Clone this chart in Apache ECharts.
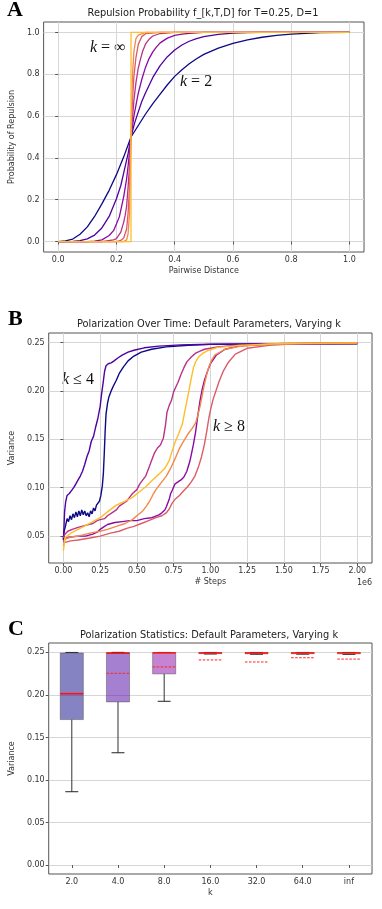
<!DOCTYPE html>
<html>
<head>
<meta charset="utf-8">
<script src="https://cdn.jsdelivr.net/npm/echarts@6/dist/echarts.min.js"></script>
<style>
html, body { margin: 0; padding: 0; background: #fff; }
#chart { width: 382px; height: 909px; }
</style>
</head>
<body>
<div id="chart"></div>
<script>
// plasma colours, one per k
var kColors = ['#0d0887', '#4e02a2', '#8b0aa5', '#b83289', '#db5c68', '#f48849', '#febd2a'];
var kLabels = ['2.0', '4.0', '8.0', '16.0', '32.0', '64.0', 'inf'];

// ---- panel A: repulsion probability vs distance ----
var probK2 = [[0,0],[0.025,0.003],[0.05,0.012],[0.075,0.035],[0.1,0.07],[0.125,0.12],[0.15,0.18],[0.175,0.245],[0.2,0.32],[0.225,0.405],[0.25,0.5],[0.275,0.555],[0.3,0.61],[0.325,0.66],[0.35,0.705],[0.375,0.75],[0.4,0.79],[0.425,0.822],[0.45,0.85],[0.475,0.874],[0.5,0.895],[0.55,0.925],[0.6,0.948],[0.65,0.965],[0.7,0.977],[0.75,0.986],[0.8,0.992],[0.85,0.996],[0.9,0.999],[1,1]];
var probK4 = [[0,0],[0.05,0.001],[0.075,0.004],[0.1,0.013],[0.125,0.031],[0.15,0.065],[0.175,0.12],[0.2,0.205],[0.215,0.268],[0.225,0.328],[0.24,0.42],[0.25,0.5],[0.262,0.565],[0.275,0.62],[0.287,0.67],[0.3,0.712],[0.325,0.785],[0.35,0.841],[0.375,0.884],[0.4,0.916],[0.425,0.94],[0.45,0.958],[0.475,0.971],[0.5,0.98],[0.55,0.991],[0.6,0.997],[0.65,0.999],[0.7,1],[1,1]];
var probK8 = [[0,0],[0.1,0],[0.125,0.002],[0.15,0.008],[0.175,0.029],[0.19,0.052],[0.2,0.084],[0.21,0.118],[0.225,0.215],[0.235,0.3],[0.24,0.36],[0.245,0.43],[0.25,0.5],[0.26,0.6],[0.268,0.66],[0.275,0.71],[0.287,0.775],[0.3,0.834],[0.312,0.875],[0.325,0.907],[0.337,0.93],[0.35,0.95],[0.375,0.973],[0.4,0.986],[0.425,0.992],[0.45,0.996],[0.5,1],[1,1]];
var probK16 = [[0,0],[0.15,0],[0.19,0.008],[0.2,0.014],[0.215,0.045],[0.225,0.093],[0.23,0.125],[0.235,0.17],[0.24,0.26],[0.245,0.36],[0.25,0.5],[0.255,0.59],[0.26,0.675],[0.267,0.76],[0.275,0.83],[0.283,0.875],[0.29,0.91],[0.3,0.945],[0.312,0.967],[0.325,0.983],[0.35,0.995],[0.4,1],[1,1]];
var probK32 = [[0,0],[0.2,0],[0.215,0.005],[0.225,0.017],[0.235,0.06],[0.24,0.136],[0.245,0.262],[0.25,0.5],[0.255,0.674],[0.26,0.79],[0.267,0.88],[0.275,0.943],[0.287,0.98],[0.3,0.994],[0.35,1],[1,1]];
var probK64 = [[0,0],[0.225,0],[0.235,0.008],[0.24,0.037],[0.245,0.137],[0.25,0.5],[0.255,0.79],[0.26,0.91],[0.267,0.97],[0.275,0.987],[0.3,1],[1,1]];
var probKInf = [[0,0],[0.25,0],[0.25,1],[1,1]];
var ticksA = [0, 0.2, 0.4, 0.6, 0.8, 1.0];

// ---- panel B: variance over time (x in units of 1e6 steps) ----
var varK2 = [[0,0.047],[0.005,0.055],[0.015,0.061],[0.025,0.068],[0.035,0.065],[0.045,0.071],[0.055,0.067],[0.065,0.073],[0.075,0.069],[0.085,0.075],[0.095,0.07],[0.105,0.076],[0.115,0.071],[0.125,0.077],[0.135,0.072],[0.145,0.076],[0.155,0.071],[0.165,0.074],[0.175,0.07],[0.185,0.076],[0.195,0.073],[0.205,0.079],[0.215,0.076],[0.225,0.082],[0.235,0.08],[0.245,0.086],[0.255,0.092],[0.265,0.102],[0.272,0.115],[0.278,0.135],[0.284,0.158],[0.29,0.176],[0.3,0.187],[0.31,0.194],[0.325,0.2],[0.34,0.205],[0.36,0.211],[0.38,0.218],[0.41,0.225],[0.44,0.231],[0.48,0.236],[0.53,0.24],[0.6,0.243],[0.7,0.2455],[0.85,0.2472],[1.0,0.248],[1.3,0.2484],[1.6,0.2486],[2.0,0.2487]];
var varK4 = [[0,0.046],[0.004,0.06],[0.008,0.075],[0.015,0.085],[0.025,0.092],[0.04,0.094],[0.055,0.097],[0.07,0.1],[0.085,0.104],[0.1,0.108],[0.115,0.112],[0.13,0.117],[0.145,0.124],[0.16,0.132],[0.175,0.138],[0.19,0.148],[0.205,0.153],[0.22,0.163],[0.235,0.172],[0.25,0.184],[0.26,0.197],[0.27,0.208],[0.28,0.22],[0.29,0.226],[0.305,0.228],[0.325,0.229],[0.345,0.231],[0.37,0.234],[0.4,0.237],[0.44,0.24],[0.48,0.242],[0.55,0.2445],[0.65,0.2462],[0.8,0.2475],[1.0,0.2482],[1.4,0.2486],[2.0,0.2488]];
var varK8 = [[0,0.044],[0.01,0.048],[0.05,0.049],[0.1,0.05],[0.15,0.05],[0.2,0.052],[0.23,0.054],[0.25,0.057],[0.28,0.06],[0.3,0.062],[0.35,0.064],[0.4,0.065],[0.45,0.066],[0.5,0.066],[0.55,0.068],[0.6,0.069],[0.62,0.07],[0.65,0.072],[0.67,0.074],[0.69,0.077],[0.7,0.08],[0.72,0.088],[0.73,0.094],[0.74,0.097],[0.76,0.104],[0.78,0.106],[0.8,0.108],[0.82,0.111],[0.84,0.117],[0.86,0.127],[0.87,0.134],[0.885,0.145],[0.9,0.158],[0.915,0.175],[0.93,0.19],[0.945,0.202],[0.96,0.211],[0.98,0.22],[1.0,0.228],[1.04,0.237],[1.1,0.243],[1.2,0.2465],[1.4,0.2482],[1.7,0.249],[2.0,0.2492]];
var varK16 = [[0,0.048],[0.01,0.052],[0.03,0.055],[0.06,0.057],[0.1,0.059],[0.15,0.061],[0.2,0.063],[0.23,0.066],[0.25,0.067],[0.28,0.068],[0.3,0.071],[0.33,0.074],[0.36,0.077],[0.38,0.081],[0.4,0.083],[0.43,0.086],[0.45,0.09],[0.47,0.094],[0.5,0.098],[0.52,0.104],[0.54,0.108],[0.56,0.112],[0.585,0.122],[0.6,0.128],[0.62,0.136],[0.64,0.141],[0.66,0.144],[0.68,0.151],[0.695,0.165],[0.705,0.178],[0.72,0.185],[0.735,0.19],[0.75,0.199],[0.765,0.204],[0.78,0.209],[0.8,0.217],[0.82,0.224],[0.84,0.23],[0.87,0.235],[0.9,0.239],[0.93,0.241],[0.96,0.243],[1.0,0.244],[1.05,0.2455],[1.2,0.2475],[1.5,0.249],[2.0,0.2495]];
var varK32 = [[0,0.043],[0.05,0.045],[0.1,0.046],[0.18,0.048],[0.25,0.05],[0.32,0.053],[0.38,0.055],[0.43,0.058],[0.48,0.06],[0.53,0.063],[0.58,0.066],[0.63,0.069],[0.67,0.071],[0.7,0.074],[0.72,0.078],[0.74,0.084],[0.76,0.088],[0.79,0.092],[0.82,0.097],[0.845,0.101],[0.87,0.106],[0.895,0.112],[0.92,0.122],[0.94,0.132],[0.96,0.145],[0.975,0.158],[0.99,0.172],[1.005,0.183],[1.02,0.192],[1.04,0.201],[1.06,0.21],[1.09,0.221],[1.12,0.229],[1.17,0.238],[1.25,0.244],[1.4,0.247],[1.6,0.249],[2.0,0.2495]];
var varK64 = [[0,0.04],[0.01,0.047],[0.05,0.049],[0.1,0.05],[0.18,0.053],[0.25,0.055],[0.3,0.057],[0.36,0.06],[0.42,0.063],[0.47,0.067],[0.5,0.071],[0.54,0.076],[0.565,0.081],[0.59,0.087],[0.61,0.093],[0.63,0.098],[0.67,0.106],[0.7,0.112],[0.73,0.12],[0.76,0.13],[0.785,0.139],[0.81,0.146],[0.83,0.151],[0.85,0.156],[0.875,0.161],[0.9,0.167],[0.915,0.175],[0.93,0.184],[0.945,0.196],[0.96,0.207],[0.975,0.217],[0.99,0.225],[1.01,0.232],[1.03,0.237],[1.1,0.243],[1.2,0.246],[1.4,0.2485],[2.0,0.2495]];
var varKInf = [[0,0.035],[0.01,0.048],[0.05,0.053],[0.1,0.057],[0.14,0.06],[0.2,0.065],[0.25,0.069],[0.3,0.075],[0.36,0.082],[0.42,0.086],[0.47,0.09],[0.52,0.096],[0.56,0.101],[0.6,0.107],[0.65,0.114],[0.69,0.12],[0.72,0.128],[0.74,0.138],[0.76,0.147],[0.785,0.156],[0.81,0.166],[0.83,0.182],[0.85,0.197],[0.87,0.213],[0.885,0.224],[0.9,0.23],[0.92,0.235],[0.95,0.239],[0.99,0.242],[1.05,0.245],[1.2,0.247],[1.5,0.249],[2.0,0.2496]];
var ticksBx = [0, 0.25, 0.5, 0.75, 1.0, 1.25, 1.5, 1.75, 2.0];
var ticksBy = [0.05, 0.10, 0.15, 0.20, 0.25];

// ---- panel C: box statistics per k ----
var boxMin    = [0.0862, 0.132, 0.1925, 0.2481, 0.2478, 0.2479, 0.2477];
var boxQ1     = [0.171, 0.1918, 0.2247, 0.2485, 0.2483, 0.2484, 0.2483];
var boxMedian = [0.2015, 0.249, 0.2494, 0.2493, 0.2492, 0.2493, 0.2493];
var boxQ3     = [0.2493, 0.2497, 0.2497, 0.2497, 0.2497, 0.2497, 0.2497];
var boxMax    = [0.2499, 0.25, 0.2499, 0.2499, 0.2499, 0.2499, 0.2499];
var boxMean   = [0.2012, 0.2254, 0.2329, 0.2411, 0.2387, 0.2437, 0.2421];
var ticksCy = [0, 0.05, 0.10, 0.15, 0.20, 0.25];

var FONT = 'DejaVu Sans';
var gridColor = '#d6d6d6';
var frameColor = '#555';

function hexAlpha(hex, a) {
  var r = parseInt(hex.slice(1, 3), 16), g = parseInt(hex.slice(3, 5), 16), b = parseInt(hex.slice(5, 7), 16);
  return 'rgba(' + r + ',' + g + ',' + b + ',' + a + ')';
}

function valueAxis(grid, min, max, ticks, digits, split, extra) {
  var ax = {
    type: 'value', gridIndex: grid, min: min, max: max,
    axisLine: { show: false },
    axisTick: { show: true, customValues: ticks, length: 3, lineStyle: { color: frameColor } },
    axisLabel: {
      customValues: ticks, fontFamily: FONT, fontSize: 8, color: '#333', margin: 4,
      formatter: function (v) { return v.toFixed(digits); }
    },
    splitLine: { show: split, lineStyle: { color: gridColor, width: 1 } }
  };
  for (var key in extra) ax[key] = extra[key];
  return ax;
}

function axisName(text, gap) {
  return {
    name: text, nameLocation: 'middle', nameGap: gap,
    nameTextStyle: { fontFamily: FONT, fontSize: 8, color: '#333' }
  };
}

function lineSeries(data, color, xi, width) {
  return {
    type: 'line', data: data, xAxisIndex: xi, yAxisIndex: xi,
    showSymbol: false, symbol: 'none',
    lineStyle: { color: color, width: width }, silent: true, animation: false
  };
}

var probCurves = [probK2, probK4, probK8, probK16, probK32, probK64, probKInf];
var varCurves = [varK2, varK4, varK8, varK16, varK32, varK64, varKInf];

var series = [];
probCurves.forEach(function (c, i) {
  series.push(lineSeries(c, kColors[i], 0, 1.3));
});
varCurves.forEach(function (c, i) {
  series.push(lineSeries(c, kColors[i], 1, 1.4));
});

var boxData = kLabels.map(function (k, i) {
  return [i, boxMin[i], boxQ1[i], boxMedian[i], boxQ3[i], boxMax[i], boxMean[i]];
});

series.push({
  type: 'custom', xAxisIndex: 2, yAxisIndex: 2, data: boxData, silent: true, animation: false,
  encode: { x: 0, y: [1, 2, 3, 4, 5, 6] },
  renderItem: function (params, api) {
    var i = api.value(0);
    var band = api.size([1, 0])[0];
    var half = band * 0.25, cap = band * 0.14;
    var cx = api.coord([i, 0])[0];
    function y(v) { return api.coord([i, v])[1]; }
    var yMin = y(api.value(1)), yQ1 = y(api.value(2)), yMed = y(api.value(3));
    var yQ3 = y(api.value(4)), yMax = y(api.value(5)), yMean = y(api.value(6));
    var dark = { stroke: '#333', lineWidth: 1 };
    return {
      type: 'group',
      children: [
        { type: 'line', shape: { x1: cx, y1: yQ1, x2: cx, y2: yMin }, style: dark },
        { type: 'line', shape: { x1: cx, y1: yQ3, x2: cx, y2: yMax }, style: dark },
        { type: 'line', shape: { x1: cx - cap, y1: yMin, x2: cx + cap, y2: yMin }, style: { stroke: '#222', lineWidth: 1 } },
        { type: 'line', shape: { x1: cx - cap, y1: yMax, x2: cx + cap, y2: yMax }, style: { stroke: '#222', lineWidth: 1 } },
        { type: 'rect', shape: { x: cx - half, y: yQ3, width: 2 * half, height: Math.max(yQ1 - yQ3, 1) },
          style: { fill: hexAlpha(kColors[i], 0.5), stroke: 'rgba(70,70,70,0.45)', lineWidth: 1 } },
        { type: 'line', shape: { x1: cx - half, y1: yMean, x2: cx + half, y2: yMean },
          style: { stroke: '#ff2020', lineWidth: 1, lineDash: [2.5, 1.5] } },
        { type: 'line', shape: { x1: cx - half, y1: yMed, x2: cx + half, y2: yMed },
          style: { stroke: '#ff1010', lineWidth: 1.5 } }
      ]
    };
  }
});

function titleText(text, x, y) {
  return { type: 'text', x: x, y: y, style: { text: text, fontFamily: FONT, fontSize: 9.8, fill: '#222', align: 'center', verticalAlign: 'middle' } };
}
function panelLetter(text, x, y) {
  return { type: 'text', x: x, y: y, style: { text: text, fontFamily: 'Liberation Serif', fontWeight: 'bold', fontSize: 22, fill: '#000', align: 'left', verticalAlign: 'middle' } };
}
function mathText(rel, x, y) {
  return {
    type: 'text', x: x, y: y,
    style: {
      text: '{i|k}{n|' + rel + '}', align: 'left', verticalAlign: 'middle',
      rich: {
        i: { fontFamily: 'Liberation Serif', fontStyle: 'italic', fontSize: 16, fill: '#111' },
        n: { fontFamily: 'Liberation Serif', fontSize: 16, fill: '#111' }
      }
    }
  };
}

var option = {
  backgroundColor: '#fff',
  animation: false,
  grid: [
    { left: 39, top: 22, width: 325, height: 230, show: true, borderColor: frameColor, borderWidth: 1, backgroundColor: 'transparent' },
    { left: 45, top: 333, width: 327, height: 230, show: true, borderColor: frameColor, borderWidth: 1, backgroundColor: 'transparent' },
    { left: 45, top: 643, width: 327, height: 231, show: true, borderColor: frameColor, borderWidth: 1, backgroundColor: 'transparent' }
  ],
  xAxis: [
    valueAxis(0, -0.05, 1.05, ticksA, 1, true, axisName('Pairwise Distance', 15)),
    valueAxis(1, -0.1, 2.1, ticksBx, 2, true, axisName('# Steps', 15)),
    (function () {
      var ax = {
        type: 'category', gridIndex: 2, data: kLabels,
        axisLine: { show: false },
        axisTick: { show: true, alignWithLabel: true, length: 3, lineStyle: { color: frameColor } },
        axisLabel: { fontFamily: FONT, fontSize: 8, color: '#333', margin: 4 },
        splitLine: { show: false }
      };
      var n = axisName('k', 15);
      for (var key in n) ax[key] = n[key];
      return ax;
    })()
  ],
  yAxis: [
    valueAxis(0, -0.05, 1.05, ticksA, 1, true, axisName('Probability of Repulsion', 22)),
    valueAxis(1, 0.0222, 0.2598, ticksBy, 2, true, axisName('Variance', 28)),
    valueAxis(2, -0.0105, 0.261, ticksCy, 2, true, axisName('Variance', 28))
  ],
  series: series,
  graphic: [
    titleText('Repulsion Probability f_[k,T,D] for T=0.25, D=1', 203, 13.5),
    titleText('Polarization Over Time: Default Parameters, Varying k', 209, 324.5),
    titleText('Polarization Statistics: Default Parameters, Varying k', 209, 635),
    panelLetter('A', 7, 10),
    panelLetter('B', 8, 319),
    panelLetter('C', 8, 629.5),
    mathText(' = \u221e', 90, 47.5),
    mathText(' = 2', 180, 82),
    mathText(' \u2264 4', 62, 379.5),
    mathText(' \u2265 8', 213, 427),
    { type: 'text', x: 372, y: 583, style: { text: '1e6', fontFamily: FONT, fontSize: 8, fill: '#333', align: 'right', verticalAlign: 'middle' } }
  ]
};

var myChart = echarts.init(document.getElementById('chart'), null, { renderer: 'canvas' });
myChart.setOption(option);
</script>
</body>
</html>
